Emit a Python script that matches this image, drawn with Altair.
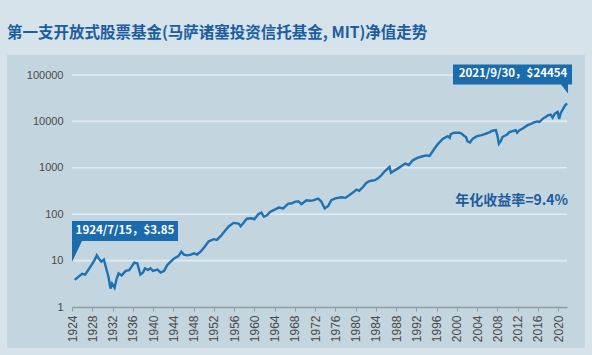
import altair as alt
import pandas as pd

# ---- data ----
years = [1924.54, 1925.3, 1926.0, 1926.6, 1927.3, 1928.0, 1928.5, 1928.9, 1929.3, 1929.8,
         1930.3, 1930.8, 1931.2, 1931.6, 1931.9, 1932.4, 1932.8, 1933.2, 1933.8, 1934.6,
         1935.3, 1935.8, 1936.3, 1936.9, 1937.5, 1938.0, 1938.4, 1939.0, 1939.5, 1940.0,
         1940.9, 1941.5, 1942.2, 1942.8, 1943.5, 1944.1, 1945.0, 1945.6, 1946.1, 1946.8,
         1947.5, 1948.1, 1948.7, 1949.4, 1950.2, 1951.0, 1952.0, 1952.6, 1953.4, 1954.3,
         1955.0, 1955.9, 1956.9, 1957.3, 1958.0, 1958.5, 1959.5, 1960.0, 1960.8, 1961.4,
         1961.9, 1962.5, 1963.1, 1964.0, 1964.8, 1965.7, 1966.7, 1967.3, 1968.0, 1968.7,
         1969.3, 1970.3, 1971.0, 1971.6, 1972.6, 1973.2, 1973.9, 1974.6, 1975.2, 1976.0,
         1977.2, 1978.0, 1979.2, 1980.2, 1980.7, 1981.5, 1982.1, 1982.8, 1983.8, 1984.5,
         1985.1, 1985.8, 1986.7, 1987.0, 1987.6, 1988.3, 1989.3, 1989.8, 1990.5, 1991.3,
         1992.3, 1993.1, 1993.9, 1994.6, 1995.6, 1996.2, 1997.2, 1998.2, 1998.6, 1998.8,
         1999.5, 2000.5, 2001.0, 2001.4, 2001.8, 2002.1, 2002.6, 2003.1, 2004.0, 2004.7,
         2005.5, 2006.4, 2007.0, 2007.7, 2008.0, 2008.3, 2008.7, 2009.0, 2010.0, 2010.3,
         2011.0, 2011.6, 2011.9, 2012.3, 2013.0, 2013.9, 2014.5, 2015.2, 2015.9, 2016.3,
         2017.0, 2017.5, 2018.0, 2018.5, 2018.9, 2019.3, 2019.9, 2020.2, 2020.5, 2020.9,
         2021.3, 2021.75]
nav = [3.85, 4.5, 5.2, 5.0, 6.5, 8.5, 10.5, 13.0, 11.0, 9.5,
       10.5, 6.5, 4.5, 2.5, 3.2, 2.6, 4.0, 5.3, 4.8, 6.0,
       6.2, 7.5, 9.0, 8.7, 5.0, 5.5, 6.8, 6.3, 6.8, 6.0,
       6.4, 5.5, 6.0, 8.0, 9.5, 11.0, 12.5, 15.5, 13.5, 13.0,
       13.5, 14.3, 13.5, 15.5, 20, 26, 29, 28, 34, 45,
       55, 65, 63, 55, 68, 80, 82, 78, 100, 108,
       88, 95, 112, 125, 139, 133, 169, 170, 184, 190,
       164, 199, 195, 199, 217, 190, 133, 150, 200, 220,
       232, 225, 278, 340, 320, 390, 470, 520, 540, 600,
       690, 850, 1040, 780, 860, 960, 1130, 1230, 1150, 1450,
       1650, 1750, 1850, 1800, 2600, 3200, 4200, 4800, 4400, 5300,
       5700, 5700, 5400, 4900, 4600, 3700, 3500, 4200, 4800, 5000,
       5300, 5800, 6300, 6500, 5000, 3300, 3800, 4600, 5300, 5800,
       6200, 6500, 5700, 6400, 7000, 8200, 8700, 9500, 10000, 9700,
       11500, 12400, 13500, 14000, 12000, 14500, 16000, 11300, 15000, 18000,
       21500, 24454]

x_ticks = list(range(1924, 2021, 4))
y_ticks = [1, 10, 100, 1000, 10000, 100000]
grid_vals = [10, 100, 1000, 10000, 100000]

title_text = "第一支开放式股票基金(马萨诸塞投资信托基金, MIT)净值走势"
callout_labels = ["1924/7/15，$3.85", "2021/9/30，$24454"]
callout_year = [1924.0, 2021.95]
callout_val = [9.3, 40000]
rate_label = "年化收益率=9.4%"

df = pd.DataFrame({"year": years, "nav": nav})

BLUE = "#1d72b5"
BOX = "#1a6cad"
TEXT_BLUE = "#1d5c9c"
W, H = 495, 232

xs = alt.Scale(domain=[1924, 2021.75], nice=False, zero=False)
ys = alt.Scale(type="log", domain=[1, 100000], nice=False)

x_axis = alt.Axis(values=x_ticks, format="d", labelAngle=270, title=None, grid=False,
                  labelFont="Liberation Sans", labelFontSize=12, labelColor="#4a4a4a",
                  domainColor="#8c9ba4", domainWidth=1.5, tickColor="#8c9ba4",
                  tickSize=4, labelPadding=4, labelFlush=False, labelOverlap=False,
                  zindex=1)
y_axis = alt.Axis(values=y_ticks, format=".0f", title=None, grid=False,
                  domain=False, ticks=False,
                  labelFont="Liberation Sans", labelFontSize=11, labelColor="#4a4a4a",
                  labelPadding=9, zindex=1)

X = alt.X("year:Q", scale=xs, axis=x_axis)
Y = alt.Y("nav:Q", scale=ys, axis=y_axis)

panel = alt.Chart(pd.DataFrame({"a": [0]})).mark_rect(color="#c3d5de").encode(
    x=alt.value(-65), x2=alt.value(513), y=alt.value(-20), y2=alt.value(273)
)

grid = alt.Chart(pd.DataFrame({"nav": grid_vals})).mark_rule(
    color="#e2ebf0", strokeWidth=1.6).encode(
    y=Y, x=alt.value(0), x2=alt.value(W))

line = alt.Chart(df).mark_line(color=BLUE, strokeWidth=2.4).encode(x=X, y=Y)

ann = pd.DataFrame({"year": callout_year, "nav": callout_val, "label": callout_labels})

shape1 = "M0,0 L0,-41 L106,-41 L106,-21 L10,-21 Z"
shape2 = "M0,0 L-7,-9 L-115,-9 L-115,-29 L4,-29 L4,-9 L0,-9 Z"

box1 = alt.Chart(ann.iloc[[0]]).mark_point(shape=shape1, size=4, filled=True, fill=BOX,
                                            strokeWidth=0, opacity=1).encode(x=X, y=Y)
box2 = alt.Chart(ann.iloc[[1]]).mark_point(shape=shape2, size=4, filled=True, fill=BOX,
                                            strokeWidth=0, opacity=1).encode(x=X, y=Y)
txt1 = alt.Chart(ann.iloc[[0]]).mark_text(color="white", font="Noto Sans CJK SC",
                                          fontWeight="bold", fontSize=11.5, dx=53, dy=-31,
                                          align="center", baseline="middle").encode(
    x=X, y=Y, text="label:N")
txt2 = alt.Chart(ann.iloc[[1]]).mark_text(color="white", font="Noto Sans CJK SC",
                                          fontWeight="bold", fontSize=11.5, dx=-55, dy=-19,
                                          align="center", baseline="middle").encode(
    x=X, y=Y, text="label:N")

rate = alt.Chart(pd.DataFrame({"year": [2021.95], "nav": [190], "label": [rate_label]})).mark_text(
    color=TEXT_BLUE, font="Noto Sans CJK SC", fontWeight="bold", fontSize=14,
    align="right", baseline="middle").encode(x=X, y=Y, text="label:N")

chart = alt.layer(panel, grid, line, box1, box2, txt1, txt2, rate).properties(
    width=W, height=H,
    background="#d6e3eb",
    autosize=alt.AutoSizeParams(type="none"),
    padding={"left": 72, "top": 75, "right": 25, "bottom": 48},
    title=alt.TitleParams(title_text, anchor="start", offset=14,
                          font="Noto Sans CJK SC", fontSize=15.5, fontWeight="bold",
                          color="#1b5e9f"),
).configure_view(stroke=None)

chart.save("out.html", embed_options={"renderer": "svg", "actions": False})
